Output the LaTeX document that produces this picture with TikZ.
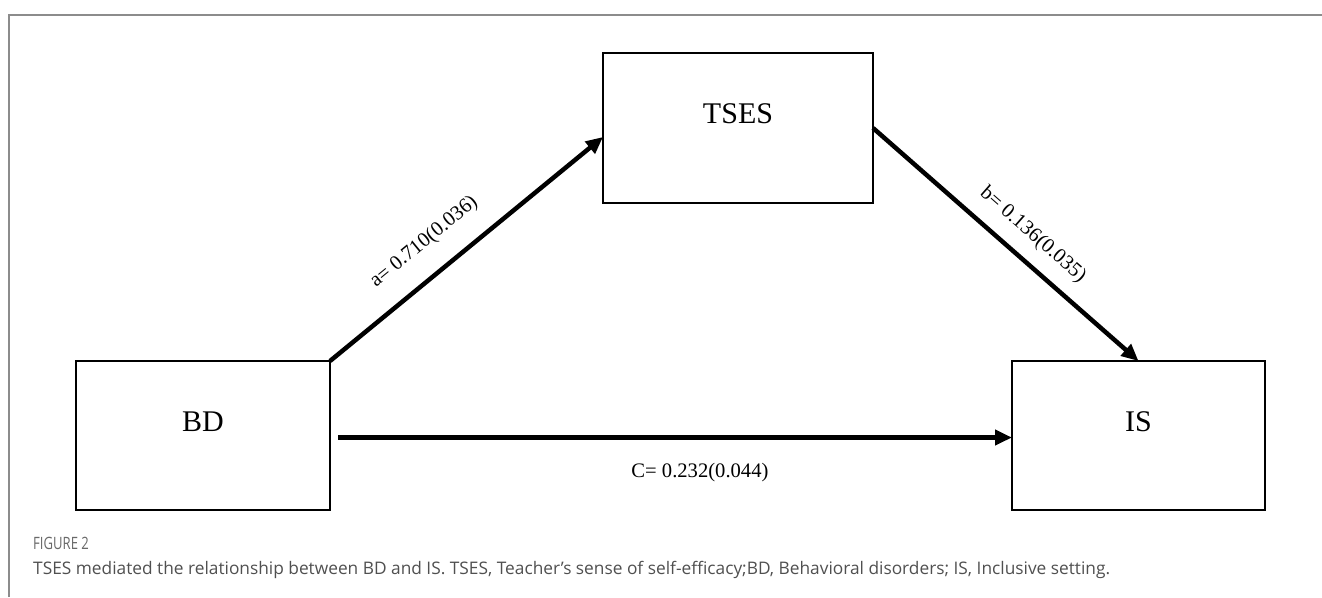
\documentclass[tikz,border=0pt]{standalone}
\usepackage{fontspec}
\setmainfont{Liberation Serif}
\newfontfamily\capfont{Open Sans}
\usetikzlibrary{arrows.meta}
\definecolor{framegray}{RGB}{140,140,140}
\definecolor{capgray}{RGB}{80,80,80}
\definecolor{figgray}{RGB}{105,105,105}
\tikzset{
  boxnode/.style={draw=black, line width=2.2pt, inner sep=0pt, outer sep=0pt, fill=white},
  boxtext/.style={font=\fontsize{30}{34}\selectfont, inner sep=0pt},
  patharrow/.style={line width=4.5pt, -{Triangle[length=17pt,width=15pt]}},
  coeflabel/.style={font=\fontsize{20.6}{24}\selectfont, inner sep=0pt},
}
\begin{document}
\begin{tikzpicture}[x=1pt,y=-1pt]
\useasboundingbox (0,0) rectangle (1322,597);
\fill[white] (0,0) rectangle (1322,597);
% frame
\draw[framegray, line width=1.5pt] (9,597) -- (9,15) -- (1322,15);
% boxes
\node[boxnode, minimum width=270pt, minimum height=150pt] (TSES) at (738,128) {};
\node[boxnode, minimum width=254pt, minimum height=149pt] (BD) at (203,435.5) {};
\node[boxnode, minimum width=253pt, minimum height=149pt] (IS) at (1138.5,435.5) {};
\node[boxtext] (TSEStext) at ([yshift=14pt]TSES.center) {TSES};
\node[boxtext] (BDtext) at ([yshift=14pt]BD.center) {BD};
\node[boxtext] (IStext) at ([yshift=14pt]IS.center) {IS};
% arrows
\draw[patharrow] (BD.north east) -- ([yshift=-9pt]TSES.west)
  node[coeflabel, pos=0.42, sloped, above=20.6pt] (alab) {a= 0.710(0.036)};
\draw[patharrow] (TSES.east) -- (IS.north)
  node[coeflabel, pos=0.54, sloped, above=13.4pt] (blab) {b= 0.136(0.035)};
\draw[patharrow] ([xshift=8pt,yshift=-2pt]BD.east) -- ([yshift=-2pt]IS.west)
  node[coeflabel, pos=0.537, below=23.6pt] (clab) {C= 0.232(0.044)};
% caption
\node[anchor=base west, inner sep=0pt, text=figgray] (figlab) at (33,549) {\scalebox{0.77}[1]{\capfont\fontsize{17}{19}\selectfont FIGURE 2}};
\node[anchor=base west, inner sep=0pt, font=\capfont\fontsize{17.3}{19}\selectfont, text=capgray] (caption) at (33,574) {TSES mediated the relationship between BD and IS. TSES, Teacher’s sense of self-efficacy;BD, Behavioral disorders; IS, Inclusive setting.};
\end{tikzpicture}
\end{document}
